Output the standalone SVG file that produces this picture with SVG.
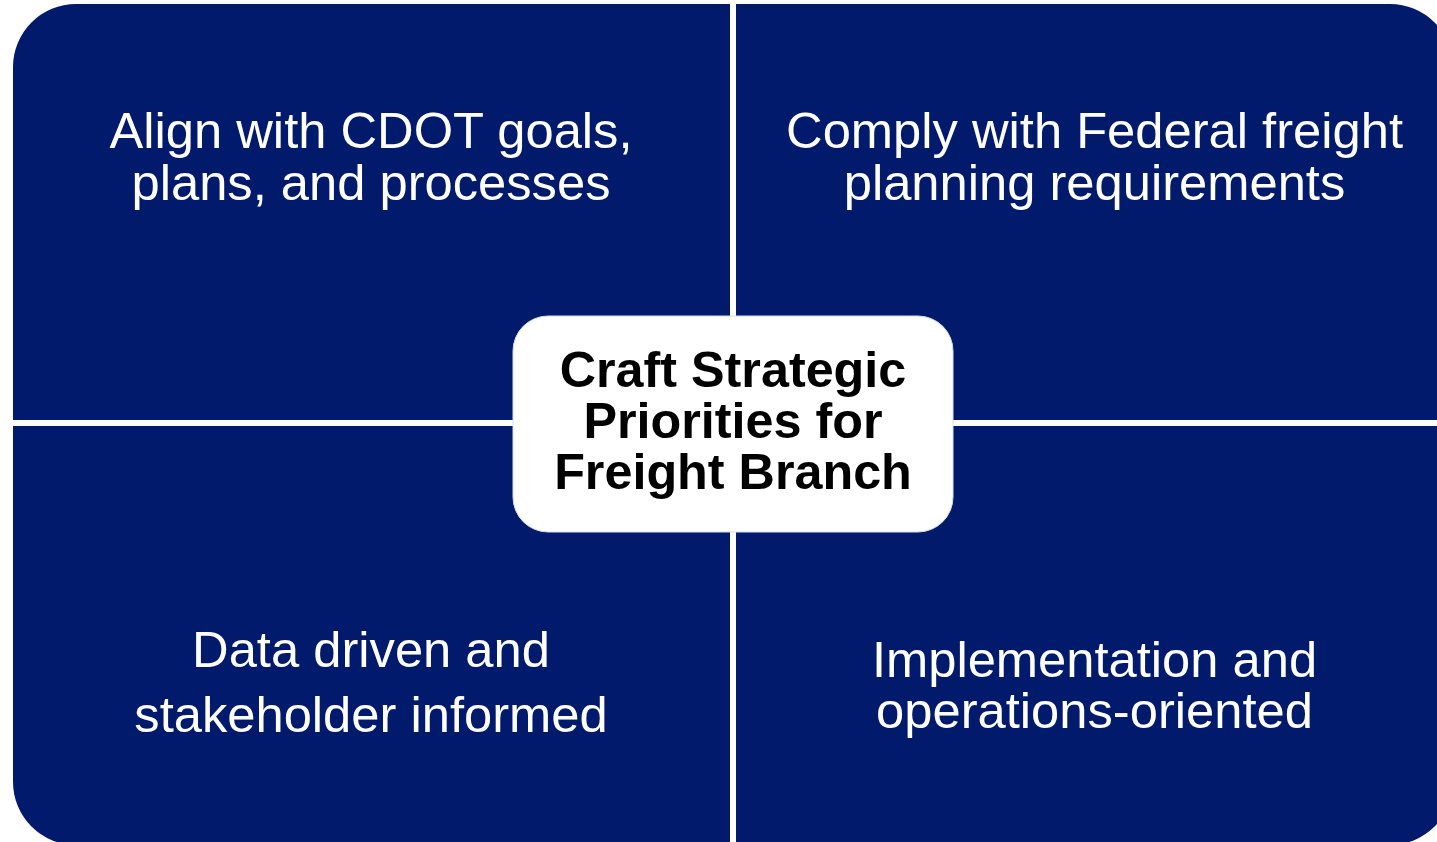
<svg xmlns="http://www.w3.org/2000/svg" width="1437" height="842" viewBox="0 0 1437 842">
  <style>
    .quad { fill: #011A6C; }
    .qtext { font-family: "Liberation Sans", Arial, sans-serif; font-size: 50.7px; fill: #ffffff; text-anchor: middle; }
    .ctext { font-family: "Liberation Sans", Arial, sans-serif; font-size: 50.3px; font-weight: bold; fill: #000000; text-anchor: middle; }
  </style>
  <rect width="1437" height="842" fill="#ffffff"/>
  <g id="quad-top-left">
    <path class="quad" d="M13,420 L13,67 A63,63 0 0 1 76,4 L730,4 L730,420 Z"/>
    <text class="qtext" x="371" y="148">Align with CDOT goals,</text>
    <text class="qtext" x="371" y="200">plans, and processes</text>
  </g>
  <g id="quad-top-right">
    <path class="quad" d="M736,420 L736,4 L1390,4 A63,63 0 0 1 1453,67 L1453,420 Z"/>
    <text class="qtext" x="1094.5" y="148">Comply with Federal freight</text>
    <text class="qtext" x="1094.5" y="200">planning requirements</text>
  </g>
  <g id="quad-bottom-left">
    <path class="quad" d="M13,426 L730,426 L730,845 L76,845 A63,63 0 0 1 13,782 Z"/>
    <text class="qtext" x="371" y="667">Data driven and</text>
    <text class="qtext" x="371" y="732">stakeholder informed</text>
  </g>
  <g id="quad-bottom-right">
    <path class="quad" d="M736,426 L1453,426 L1453,782 A63,63 0 0 1 1390,845 L736,845 Z"/>
    <text class="qtext" x="1094.5" y="677">Implementation and</text>
    <text class="qtext" x="1094.5" y="728">operations-oriented</text>
  </g>
  <g id="center">
    <rect x="513" y="316" width="440" height="216" rx="35" ry="35" fill="#ffffff" stroke="#d8dcea" stroke-width="1"/>
    <text class="ctext" x="733" y="387">Craft Strategic</text>
    <text class="ctext" x="733" y="438">Priorities for</text>
    <text class="ctext" x="733" y="489">Freight Branch</text>
  </g>
</svg>
